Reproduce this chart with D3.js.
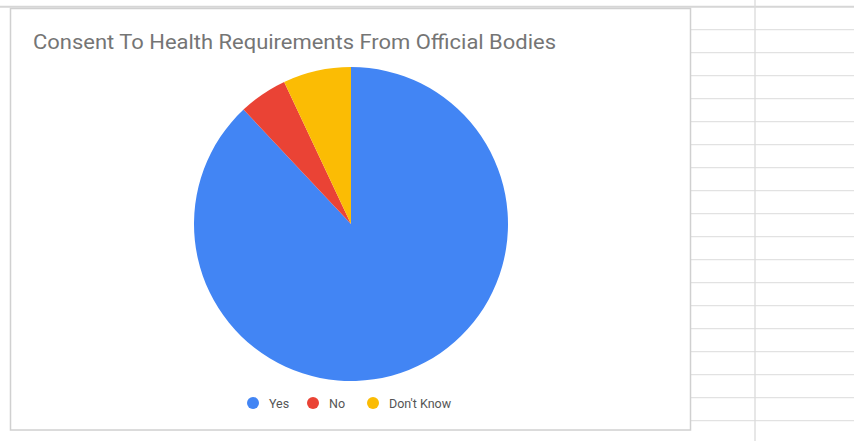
<!DOCTYPE html>
<html>
<head>
<meta charset="utf-8">
<script src="https://cdn.jsdelivr.net/npm/d3@7"></script>
<style>
  html, body { margin: 0; padding: 0; background: #fff; }
  svg { display: block; }
</style>
</head>
<body>
<svg id="chart" width="854" height="441"></svg>
<script>
const title = "Consent To Health Requirements From Official Bodies";
const categories = ["Yes", "No", "Don't Know"];
const values = [88, 5, 7];
const colors = ["#4285f4", "#ea4335", "#fbbc04"];

const W = 854, H = 441;
const svg = d3.select("#chart");

// spreadsheet grid behind
const grid = svg.append("g");
const rowStep = 23, rowStart = 6.7;
const rows = d3.range(0, 19).map(i => rowStart + i * rowStep);
grid.selectAll("line.row").data(rows).enter().append("line")
  .attr("x1", (d, i) => i === 0 ? 0 : 691).attr("x2", W)
  .attr("y1", d => d).attr("y2", d => d)
  .attr("stroke", (d, i) => i === 0 ? "#d6d6d6" : "#e2e2e2")
  .attr("stroke-width", (d, i) => i === 0 ? 2 : 1.3);
grid.append("line").attr("x1", 755).attr("x2", 755).attr("y1", 0).attr("y2", H)
  .attr("stroke", "#dadada").attr("stroke-width", 1.3);

// chart box
svg.append("rect").attr("x", 10.5).attr("y", 8.5).attr("width", 680).attr("height", 421.5)
  .attr("fill", "#fff").attr("stroke", "#d0d0d0").attr("stroke-width", 1.5);

// title
svg.append("text").attr("x", 33).attr("y", 49)
  .attr("font-family", "Roboto, Arial, sans-serif").attr("font-size", 20)
  .attr("fill", "#757575")
  .attr("textLength", 523).attr("lengthAdjust", "spacingAndGlyphs")
  .text(title);

// pie
const cx = 351, cy = 224, r = 157;
const pie = d3.pie().sort(null).value(d => d.v);
const arc = d3.arc().innerRadius(0).outerRadius(r);
const data = categories.map((c, i) => ({ c, v: values[i] }));
const color = d3.scaleOrdinal().domain(categories).range(colors);
svg.append("g").attr("transform", `translate(${cx},${cy})`)
  .selectAll("path").data(pie(data)).enter().append("path")
  .attr("d", arc).attr("fill", d => color(d.data.c));

// legend
const legendX = [253, 313, 373];
const lg = svg.append("g");
categories.forEach((c, i) => {
  const g = lg.append("g").attr("transform", `translate(${legendX[i]},403)`);
  g.append("circle").attr("r", 6).attr("fill", color(c));
  g.append("text").attr("x", 16).attr("y", 4.5)
    .attr("font-family", "Roboto, Arial, sans-serif").attr("font-size", 12.5)
    .attr("fill", "#555").text(c);
});
</script>
</body>
</html>
